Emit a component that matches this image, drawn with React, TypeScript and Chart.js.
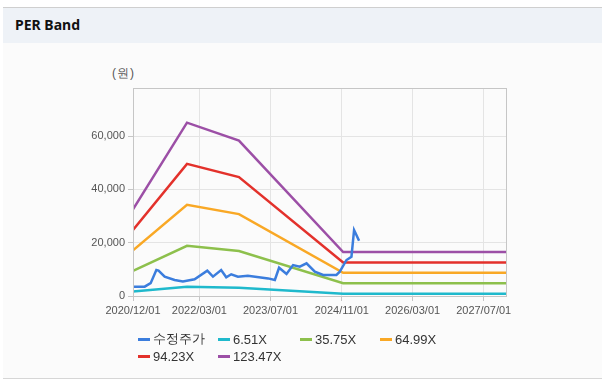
import React, { useEffect, useRef } from "react";
import { Chart, registerables } from "chart.js";

Chart.register(...registerables);

const BASE = "2020-12-01";
const tickDates = ["2020-12-01", "2022-03-01", "2023-07-01", "2024-11-01", "2026-03-01", "2027-07-01"];
const tickLabels = ["2020/12/01", "2022/03/01", "2023/07/01", "2024/11/01", "2026/03/01", "2027/07/01"];
const axisEnd = "2027-12-01";
const yTicks = [0, 20000, 40000, 60000];

const priceDates = [
  "2020-12-01", "2021-02-19", "2021-04-01", "2021-05-10", "2021-05-25", "2021-07-06", "2021-09-12",
  "2021-11-08", "2022-01-27", "2022-04-24", "2022-06-02", "2022-07-28", "2022-09-01", "2022-10-05",
  "2022-11-20", "2023-01-27", "2023-06-15", "2023-07-31", "2023-08-29", "2023-10-19", "2023-12-03",
  "2024-01-18", "2024-03-04", "2024-04-30", "2024-06-26", "2024-09-25", "2024-10-18", "2024-12-03",
  "2025-01-06", "2025-01-24", "2025-02-09", "2025-02-27",
];
const priceValues = [
  3500, 3500, 4800, 9750, 9500, 7250, 6000,
  5400, 6250, 9500, 7250, 9750, 7000, 8150,
  7250, 7600, 6600, 6000, 10600, 8250, 11600,
  11000, 12250, 9100, 7900, 7900, 9100, 13500,
  14750, 24750, 22900, 20750,
];

const bandDates = ["2020-12-01", "2021-12-06", "2022-11-27", "2024-11-10", "2027-12-01"];
const band651 = [1710, 3430, 3070, 870, 870];
const band3575 = [9400, 18800, 16900, 4800, 4800];
const band6499 = [17100, 34200, 30700, 8700, 8700];
const band9423 = [24800, 49550, 44600, 12600, 12600];
const band12347 = [32500, 65000, 58300, 16500, 16500];

const seriesNames = ["수정주가", "6.51X", "35.75X", "64.99X", "94.23X", "123.47X"];
const seriesColors = ["#3b7ddd", "#1fb9cc", "#8dc04c", "#f9a825", "#e3312b", "#9c4fa6"];

const dayOf = (s: string) => {
  const [y, m, d] = s.split("-").map(Number);
  const [by, bm, bd] = BASE.split("-").map(Number);
  return Math.round((Date.UTC(y, m - 1, d) - Date.UTC(by, bm - 1, bd)) / 86400000);
};

const toPoints = (dates: string[], vals: number[]) => dates.map((d, i) => ({ x: dayOf(d), y: vals[i] }));

export default function App() {
  const ref = useRef<HTMLCanvasElement | null>(null);

  useEffect(() => {
    document.body.style.margin = "0";
    const ctx = ref.current!;
    const bands = [band651, band3575, band6499, band9423, band12347];
    const datasets = [
      { label: seriesNames[0], data: toPoints(priceDates, priceValues) },
      ...bands.map((b, i) => ({ label: seriesNames[i + 1], data: toPoints(bandDates, b) })),
    ].map((ds, i) => ({
      ...ds,
      borderColor: seriesColors[i],
      backgroundColor: seriesColors[i],
      borderWidth: 2.5,
      pointRadius: 0,
      tension: 0,
      fill: false,
    }));
    const tickDays = tickDates.map(dayOf);

    const borderPlugin = {
      id: "areaBorder",
      afterDraw(chart: any) {
        const { ctx: c, chartArea: a } = chart;
        c.save();
        c.strokeStyle = "#c6c6c6";
        c.lineWidth = 1;
        c.strokeRect(Math.round(a.left) + 0.5, Math.round(a.top) + 0.5, Math.round(a.right - a.left), Math.round(a.bottom - a.top));
        c.restore();
      },
    };

    const chart = new Chart(ctx, {
      type: "line",
      data: { datasets: datasets as any },
      plugins: [borderPlugin],
      options: {
        animation: false,
        responsive: false,
        maintainAspectRatio: false,
        layout: { padding: { left: 73, right: 106, top: 88, bottom: 62 } },
        plugins: { legend: { display: false }, tooltip: { enabled: false } },
        scales: {
          x: {
            type: "linear",
            min: 0,
            max: dayOf(axisEnd),
            afterBuildTicks: (s: any) => {
              s.ticks = tickDays.map((v) => ({ value: v }));
            },
            afterFit: (s: any) => {
              s.height = 25;
            },
            ticks: {
              autoSkip: false,
              maxRotation: 0,
              padding: 3,
              color: "#555",
              font: { family: "'Liberation Sans', Arial, sans-serif", size: 11 },
              callback: (v: any) => {
                const i = tickDays.indexOf(Number(v));
                return i >= 0 ? tickLabels[i] : "";
              },
            },
            grid: { color: "#e4e4e4", tickLength: 5, tickColor: "#c6c6c6" },
            border: { color: "#c6c6c6" },
          },
          y: {
            min: 0,
            max: 78000,
            afterBuildTicks: (s: any) => {
              s.ticks = yTicks.map((v) => ({ value: v }));
            },
            afterFit: (s: any) => {
              s.width = 60;
            },
            ticks: {
              padding: 3,
              color: "#555",
              font: { family: "'Liberation Sans', Arial, sans-serif", size: 11 },
              callback: (v: any) => Number(v).toLocaleString("en-US"),
            },
            grid: { color: "#e4e4e4", tickLength: 5, tickColor: "#c6c6c6" },
            border: { color: "#c6c6c6" },
          },
        },
      },
    });
    return () => chart.destroy();
  }, []);

  const legendPos = [
    [138, 339], [218, 339], [300, 339], [380, 339],
    [138, 356], [218, 356],
  ];

  return (
    <div style={{ position: "relative", width: 612, height: 383, background: "#fff", overflow: "hidden" }}>
      <div style={{ position: "absolute", left: 3, top: 7, width: 599, height: 370, background: "#fbfbfb", borderTop: "1px solid #cfcfcf", borderBottom: "1px solid #d6d6d6" }} />
      <div style={{ position: "absolute", left: 3, top: 8, width: 599, height: 35, background: "#eef2f7" }} />
      <div style={{ position: "absolute", left: 15, top: 15, fontFamily: "'Noto Sans', sans-serif", fontWeight: 700, fontSize: 14, color: "#111", lineHeight: "20px" }}>PER Band</div>
      <div style={{ position: "absolute", left: 112, top: 65, fontFamily: "'Liberation Sans', Arial, sans-serif", fontSize: 12, color: "#555", lineHeight: "16px", letterSpacing: 1 }}>(원)</div>
      <canvas ref={ref} width={612} height={383} style={{ position: "absolute", left: 0, top: 0, width: 612, height: 383 }} />
      {seriesNames.map((n, i) => (
        <div key={n} style={{ position: "absolute", left: legendPos[i][0], top: legendPos[i][1] - 8, height: 16, display: "flex", alignItems: "center", fontFamily: "'Liberation Sans', Arial, sans-serif", fontSize: 13, color: "#333", whiteSpace: "nowrap" }}>
          <span style={{ display: "inline-block", width: 12, height: 3, background: seriesColors[i], marginRight: 3 }} />
          <span>{n}</span>
        </div>
      ))}
    </div>
  );
}
